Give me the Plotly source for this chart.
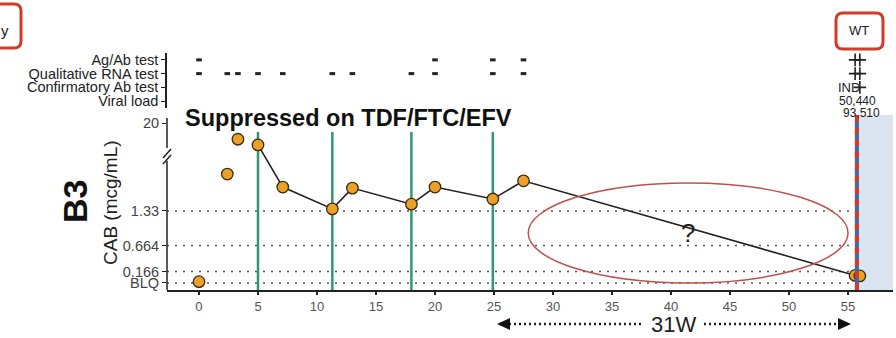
import plotly.graph_objects as go

# ---------------- data ----------------
weeks = [0, 2.4, 3.3, 5, 7.1, 11.3, 13, 18, 20, 24.9, 27.5, 55.6, 56.0]
cab = [-0.03, 2.04, 2.71, 2.6, 1.79, 1.37, 1.77, 1.46, 1.79, 1.56, 1.91, 0.09, 0.08]
connected_from = 3  # line joins points from week 5 onward

y_tick_vals = [-0.055, 0.166, 0.664, 1.33, 3.02]
y_tick_text = ["BLQ", "0.166", "0.664", "1.33", "20"]
grid_levels = [-0.055, 0.166, 0.664, 1.33]
x_ticks = [0, 5, 10, 15, 20, 25, 30, 35, 40, 45, 50, 55]

test_rows = ["Viral load", "Confirmatory Ab test", "Qualitative RNA test", "Ag/Ab test"]
ag_ab_neg_weeks = [0, 20, 24.9, 27.5]
rna_neg_weeks = [0, 2.4, 3.3, 5, 7.1, 11.3, 13, 18, 20, 24.9, 27.5]
final_weeks = [55.6, 56.0]
ag_ab_final = ["+", "+"]
rna_final = ["+", "+"]
confirm_final = ["IND", "+"]
viral_load_final = ["50,440", "93,510"]

injection_weeks = [5, 11.3, 18, 24.9]
detect_week = 55.75
ellipse_x = [27.9, 55.0]
ellipse_y = [-0.055, 1.87]

# ---------------- geometry helpers ----------------
W, H = 896, 338
ML, MR, MT, MB = 167, 3, 0, 48
PW, PH = W - ML - MR, H - MT - MB
X_RANGE = [-2.71, 58.81]
Y_RANGE = [-0.19, 3.176]


def xp(px):
    return (px - ML) / PW


def yp(py):
    return (H - MB - py) / PH


def rrect(x0, y0, x1, y1, r):
    def P(x, y):
        return f"{xp(x):.5f},{yp(y):.5f}"
    return (f"M {P(x0 + r, y0)} L {P(x1 - r, y0)} Q {P(x1, y0)} {P(x1, y0 + r)} "
            f"L {P(x1, y1 - r)} Q {P(x1, y1)} {P(x1 - r, y1)} L {P(x0 + r, y1)} "
            f"Q {P(x0, y1)} {P(x0, y1 - r)} L {P(x0, y0 + r)} Q {P(x0, y0)} {P(x0 + r, y0)} Z")


FONT = "Liberation Sans, Arial, sans-serif"
ORANGE = "#e9a128"
RED = "#d63a26"
BLUE = "#2f6db0"
GREEN = "#2e9a6a"

fig = go.Figure()

fig.add_trace(go.Scatter(x=weeks[connected_from:], y=cab[connected_from:], mode="lines",
                         line=dict(color="#222", width=1.6), yaxis="y", hoverinfo="skip"))
fig.add_trace(go.Scatter(x=weeks, y=cab, mode="markers", yaxis="y", cliponaxis=False,
                         marker=dict(size=11.5, color=ORANGE, line=dict(color="#3a2a10", width=1.3))))

fig.add_trace(go.Scatter(x=ag_ab_neg_weeks, y=[3] * len(ag_ab_neg_weeks), mode="markers", yaxis="y2",
                         marker=dict(symbol="line-ew", size=4, line=dict(color="#222", width=3))))
fig.add_trace(go.Scatter(x=rna_neg_weeks, y=[2] * len(rna_neg_weeks), mode="markers", yaxis="y2",
                         marker=dict(symbol="line-ew", size=4, line=dict(color="#222", width=3))))

# positive results as "+" markers
pos_x, pos_y = [], []
for row, res in ((3, ag_ab_final), (2, rna_final), (1, confirm_final)):
    for wk, t in zip(final_weeks, res):
        if t == "+":
            pos_x.append(wk)
            pos_y.append(row)
fig.add_trace(go.Scatter(x=pos_x, y=pos_y, mode="markers", yaxis="y2", cliponaxis=False,
                         marker=dict(symbol="cross-thin", size=9, line=dict(color="#222", width=1.6))))

shapes = []
shapes.append(dict(type="rect", xref="x", yref="y", x0=detect_week + 0.1, x1=X_RANGE[1],
                   y0=Y_RANGE[0], y1=Y_RANGE[1], fillcolor="#dbe4f1", line=dict(width=0), layer="below"))
for g in grid_levels:
    shapes.append(dict(type="line", xref="paper", yref="y", x0=0, x1=1, y0=g, y1=g,
                       line=dict(color="#555", width=1.5, dash="2px,6px"), layer="below"))
for wk in injection_weeks:
    shapes.append(dict(type="line", xref="x", yref="y", x0=wk, x1=wk, y0=Y_RANGE[0], y1=2.85,
                       line=dict(color=GREEN, width=2.5), layer="below"))
shapes.append(dict(type="line", xref="x", yref="y", x0=detect_week, x1=detect_week,
                   y0=Y_RANGE[0], y1=Y_RANGE[1], line=dict(color=BLUE, width=4)))
shapes.append(dict(type="line", xref="x", yref="y", x0=detect_week, x1=detect_week,
                   y0=Y_RANGE[0], y1=Y_RANGE[1], line=dict(color=RED, width=4, dash="7px,5px")))
shapes.append(dict(type="circle", xref="x", yref="y", x0=ellipse_x[0], x1=ellipse_x[1],
                   y0=ellipse_y[0], y1=ellipse_y[1], line=dict(color="#c0504d", width=1.5)))
shapes.append(dict(type="line", xref="paper", yref="paper", x0=0, x1=0, y0=yp(290), y1=yp(161),
                   line=dict(color="#222", width=1.5)))
shapes.append(dict(type="line", xref="paper", yref="paper", x0=0, x1=0, y0=yp(148), y1=yp(118),
                   line=dict(color="#222", width=1.5)))
for off in (0, 6):
    shapes.append(dict(type="line", xref="paper", yref="paper", x0=xp(163), x1=xp(171),
                       y0=yp(164 - off), y1=yp(155 - off), line=dict(color="#222", width=1.5)))
ay = 324
shapes.append(dict(type="line", xref="paper", yref="paper", x0=xp(509), x1=xp(642), y0=yp(ay), y1=yp(ay),
                   line=dict(color="#222", width=2.5, dash="2px,3px")))
shapes.append(dict(type="line", xref="paper", yref="paper", x0=xp(704), x1=xp(838), y0=yp(ay), y1=yp(ay),
                   line=dict(color="#222", width=2.5, dash="2px,3px")))
shapes.append(dict(type="path", xref="paper", yref="paper",
                   path=f"M {xp(497)},{yp(ay)} L {xp(510)},{yp(ay - 6)} L {xp(510)},{yp(ay + 6)} Z",
                   fillcolor="#111", line=dict(width=0)))
shapes.append(dict(type="path", xref="paper", yref="paper",
                   path=f"M {xp(851)},{yp(ay)} L {xp(838)},{yp(ay - 6)} L {xp(838)},{yp(ay + 6)} Z",
                   fillcolor="#111", line=dict(width=0)))
shapes.append(dict(type="path", xref="paper", yref="paper", path=rrect(836, 13, 883, 49, 7),
                   line=dict(color=RED, width=3)))
shapes.append(dict(type="path", xref="paper", yref="paper", path=rrect(-40, 4, 21, 48, 7),
                   line=dict(color=RED, width=3)))

ann = []
for wk, t in zip(final_weeks, confirm_final):
    if t != "+":
        ann.append(dict(x=wk, y=1, xref="x", yref="y2", text=t, showarrow=False, xshift=-6,
                        font=dict(family=FONT, size=13, color="#222")))
for i, (wk, t) in enumerate(zip(final_weeks, viral_load_final)):
    ann.append(dict(x=wk, y=0, xref="x", yref="y2", text=t, showarrow=False, yshift=-12 * i,
                    xshift=2, font=dict(family=FONT, size=12, color="#222")))


def pann(px, py, text, size, xanchor="center", angle=0, color="#222"):
    return dict(x=xp(px), y=yp(py), xref="paper", yref="paper", xanchor=xanchor, yanchor="middle",
                text=text, showarrow=False, textangle=angle,
                font=dict(family=FONT, size=size, color=color))


ann += [
    pann(183, 118, "<b>Suppressed on TDF/FTC/EFV</b>", 23.5, xanchor="left", color="#111"),
    dict(x=41.4, y=0.91, xref="x", yref="y", text="?", showarrow=False,
         font=dict(family=FONT, size=26, color="#222")),
    pann(673, ay, "31W", 22),
    pann(75, 202, "<b>B3</b>", 34, angle=-90, color="#111"),
    pann(110, 203, "CAB (mcg/mL)", 19, angle=-90),
    pann(859, 31, "WT", 13),
    pann(11, 31, "y", 15, xanchor="right"),
]

fig.update_layout(
    width=W, height=H, margin=dict(l=ML, r=MR, t=MT, b=MB, autoexpand=False),
    paper_bgcolor="white", plot_bgcolor="white", showlegend=False,
    font=dict(family=FONT),
    xaxis=dict(range=X_RANGE, tickvals=x_ticks, ticks="outside", ticklen=3, tickwidth=1.5,
               tickcolor="#222", showline=True, linecolor="#222", linewidth=2, showgrid=False,
               zeroline=False, anchor="y", tickfont=dict(size=13, color="#555"), automargin=False),
    yaxis=dict(domain=[0, yp(115)], range=Y_RANGE, tickvals=y_tick_vals, ticktext=y_tick_text,
               ticks="outside", ticklen=4, tickcolor="#222", showline=False, showgrid=False,
               zeroline=False, tickfont=dict(size=14.5, color="#444"), automargin=False),
    yaxis2=dict(domain=[yp(108), yp(53)], range=[-0.5, 3.5], tickvals=[0, 1, 2, 3],
                ticktext=test_rows, ticks="outside", ticklen=4, tickcolor="#222", showline=True,
                linecolor="#222", linewidth=1.5, showgrid=False, zeroline=False, anchor="x",
                tickfont=dict(size=14.5, color="#222"), automargin=False),
    shapes=shapes, annotations=ann,
)

fig.write_html("out.html", config={"displayModeBar": False},
               post_script="document.body.style.margin='0';document.body.style.padding='0';")
